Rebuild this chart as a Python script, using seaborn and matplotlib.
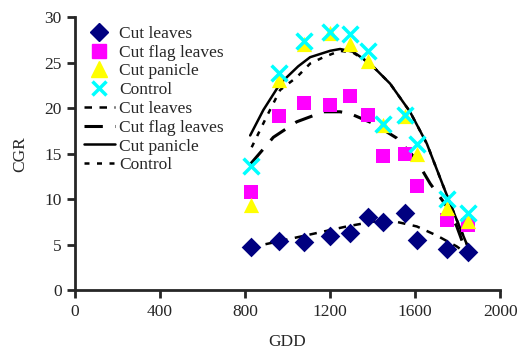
import matplotlib
matplotlib.use("Agg")
import matplotlib.pyplot as plt
import seaborn as sns
import pandas as pd
from matplotlib.lines import Line2D

# Observed data
gdd = [827, 960, 1078, 1200, 1294, 1378, 1450, 1553, 1608, 1750, 1850]
cut_leaves = [4.7, 5.4, 5.3, 6.0, 6.3, 8.0, 7.5, 8.5, 5.5, 4.5, 4.2]
cut_flag_leaves = [10.8, 19.1, 20.6, 20.3, 21.3, 19.2, 14.7, 15.0, 11.5, 7.7, 7.2]
cut_panicle = [9.4, 23.1, 27.0, 28.3, 27.1, 25.2, 18.1, 19.1, 15.0, 9.0, 7.6]
control = [13.6, 23.9, 27.4, 28.4, 28.1, 26.3, 18.3, 19.3, 16.1, 10.0, 8.5]

# Trend lines
fit_leaves_x = [827, 965, 1122, 1278, 1420, 1514, 1608, 1702, 1796, 1843]
fit_leaves_y = [4.7, 5.4, 6.2, 7.0, 7.6, 7.5, 7.0, 6.0, 4.8, 4.0]
fit_flag_x = [827, 933, 1043, 1169, 1247, 1294, 1404, 1514, 1600, 1671, 1749, 1796, 1843]
fit_flag_y = [13.9, 16.8, 18.5, 19.6, 19.6, 19.4, 18.3, 16.7, 14.5, 11.7, 9.2, 7.0, 4.0]
fit_panicle_x = [824, 886, 965, 1050, 1106, 1200, 1247, 1308, 1388, 1482, 1576, 1655, 1733, 1796, 1851]
fit_panicle_y = [17.0, 19.8, 22.7, 24.6, 25.6, 26.3, 26.5, 26.2, 24.9, 22.7, 19.6, 16.1, 11.4, 7.7, 4.6]
fit_control_x = [831, 900, 965, 1043, 1106, 1169, 1247, 1308, 1388, 1482, 1576, 1655, 1733, 1796, 1851]
fit_control_y = [15.7, 19.0, 22.0, 23.4, 24.9, 25.6, 26.3, 26.1, 24.9, 22.7, 19.6, 16.1, 11.4, 7.7, 4.6]

names = ["Cut leaves", "Cut flag leaves", "Cut panicle", "Control"]
colors = ["#000080", "#FF00FF", "#FFFF00", "#00FFFF"]
markers = ["D", "s", "^", "X"]

sns.set_style("ticks")
plt.rcParams["font.family"] = ["Liberation Serif", "DejaVu Serif"]

FS = 12.5

fig = plt.figure(figsize=(5.21, 3.5), dpi=100)
ax = fig.add_axes([0.144, 0.171, 0.816, 0.78])

obs = pd.DataFrame({
    "GDD": gdd * 4,
    "CGR": cut_leaves + cut_flag_leaves + cut_panicle + control,
    "Treatment": sum([[n] * len(gdd) for n in names], []),
})

fits = [
    (fit_leaves_x, fit_leaves_y, (0, (3, 3)), 1.8),
    (fit_flag_x, fit_flag_y, (0, (6, 4)), 2.2),
    (fit_panicle_x, fit_panicle_y, "-", 1.8),
    (fit_control_x, fit_control_y, (0, (2, 3)), 1.8),
]
for (fx, fy, ls, lw) in fits:
    sns.lineplot(x=fx, y=fy, ax=ax, color="black", linestyle=ls, linewidth=lw,
                 sort=False, legend=False)

sizes = {"Cut leaves": 100, "Cut flag leaves": 110, "Cut panicle": 120, "Control": 120}
for n, c, m in zip(names, colors, markers):
    sub = obs[obs["Treatment"] == n]
    if m == "X":
        sns.scatterplot(data=sub, x="GDD", y="CGR", ax=ax, marker="x", color=c,
                        s=130, linewidth=2.5, legend=False, zorder=3)
    else:
        sns.scatterplot(data=sub, x="GDD", y="CGR", ax=ax, marker=m, color=c,
                        s=sizes[n], linewidth=0, legend=False, zorder=3)

ax.set_xlim(0, 2000)
ax.set_ylim(0, 30)
ax.set_xticks([0, 400, 800, 1200, 1600, 2000])
ax.set_yticks([0, 5, 10, 15, 20, 25, 30])
ax.set_xlabel("GDD", fontsize=FS, labelpad=10)
ax.set_ylabel("CGR", fontsize=FS, labelpad=12)
ax.tick_params(axis="both", labelsize=FS, width=2, length=6, direction="out")
ax.tick_params(axis="x", pad=4)
for sp in ["left", "bottom"]:
    ax.spines[sp].set_linewidth(2)
for sp in ["top", "right"]:
    ax.spines[sp].set_visible(False)

handles = [
    Line2D([], [], marker="D", color="#000080", linestyle="none", markersize=9),
    Line2D([], [], marker="s", color="#FF00FF", linestyle="none", markersize=10),
    Line2D([], [], marker="^", color="#FFFF00", linestyle="none", markersize=11),
    Line2D([], [], marker="x", color="#00FFFF", linestyle="none", markersize=10, markeredgewidth=2.5),
    Line2D([], [], color="black", linestyle=(0, (3, 3)), linewidth=1.8),
    Line2D([], [], color="black", linestyle=(0, (6, 4)), linewidth=2.2),
    Line2D([], [], color="black", linestyle="-", linewidth=1.8),
    Line2D([], [], color="black", linestyle=(0, (2, 3)), linewidth=1.8),
]
ax.legend(handles, names + names, loc="upper left", bbox_to_anchor=(0.0, 1.0),
          frameon=False, fontsize=FS, labelspacing=0.15, handlelength=1.8,
          handletextpad=0.25, borderaxespad=0.1)

fig.savefig("out.png", dpi=100)
